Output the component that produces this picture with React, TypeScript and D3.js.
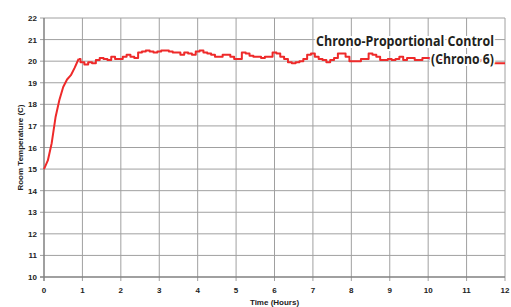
import * as d3 from "d3";
import React from "react";

// room temperature (C), one reading every 0.1 h from 0 to 12 h
const hours = d3.range(0, 121).map((i) => i / 10);
const temps = [
  15.0, 15.4, 16.2, 17.4, 18.2, 18.8, 19.15, 19.35, 19.7, 20.1,
  19.95, 19.85, 19.95, 19.9, 20.05, 20.15, 20.1, 20.05, 20.2, 20.1,
  20.1, 20.2, 20.3, 20.2, 20.15, 20.4, 20.45, 20.5, 20.45, 20.4,
  20.45, 20.5, 20.5, 20.45, 20.4, 20.4, 20.3, 20.4, 20.35, 20.3,
  20.45, 20.5, 20.4, 20.35, 20.3, 20.2, 20.2, 20.3, 20.3, 20.2,
  20.1, 20.1, 20.4, 20.35, 20.25, 20.2, 20.2, 20.15, 20.2, 20.2,
  20.4, 20.35, 20.2, 20.1, 19.95, 19.9, 19.95, 20.0, 20.1, 20.3,
  20.35, 20.2, 20.1, 20.05, 19.95, 20.05, 20.15, 20.35, 20.35, 20.2,
  20.0, 20.0, 20.0, 20.1, 20.1, 20.35, 20.3, 20.2, 20.05, 20.05,
  20.1, 20.05, 20.1, 20.2, 20.05, 20.15, 20.15, 20.05, 20.05, 20.15,
  20.15, 20.1, 20.1, 20.05, 20.0, 20.1, 20.15, 20.05, 20.0, 20.05,
  20.1, 20.0, 19.95, 20.0, 20.05, 19.95, 19.9, 19.9, 19.9, 19.9,
  19.9,
];
const riseEnd = 9; // index where the warm-up ends and the control band starts
const xTicks = d3.range(0, 13);
const yTicks = d3.range(10, 23);
const titleLines = ["Chrono-Proportional Control", "(Chrono 6)"];

const W = 511;
const H = 307;
const margin = { top: 18, right: 6, bottom: 30, left: 44 };

export default function App() {
  const x = d3.scaleLinear().domain([0, 12]).range([margin.left, W - margin.right]);
  const y = d3.scaleLinear().domain([10, 22]).range([H - margin.bottom, margin.top]);

  const pts = temps.map((v, i) => [hours[i], v] as [number, number]);
  const rise = d3
    .line<[number, number]>()
    .x((d) => x(d[0]))
    .y((d) => y(d[1]));
  const hold = d3
    .line<[number, number]>()
    .x((d) => x(d[0]))
    .y((d) => y(d[1]))
    .curve(d3.curveStep); // logger readings look stair-stepped

  const font = "'Liberation Sans', Arial, sans-serif";

  return (
    <svg
      width={W}
      height={H}
      style={{ position: "absolute", left: 0, top: 0, background: "#fff" }}
    >
      {/* grid */}
      <g stroke="#a0a0a0" strokeWidth={1}>
        {xTicks.slice(1).map((t) => (
          <line key={"gx" + t} x1={x(t)} x2={x(t)} y1={y(22)} y2={y(10) + 4} />
        ))}
        {yTicks.slice(1).map((t) => (
          <line key={"gy" + t} x1={x(0) - 4} x2={x(12)} y1={y(t)} y2={y(t)} />
        ))}
      </g>
      {/* axes */}
      <g stroke="#808080" strokeWidth={1.5}>
        <line x1={x(0)} x2={x(0)} y1={y(22)} y2={y(10) + 4} />
        <line x1={x(0) - 4} x2={x(12)} y1={y(10)} y2={y(10)} />
      </g>

      <g fill="none" stroke="#ee2a2a" strokeWidth={2} strokeLinejoin="round">
        <path d={rise(pts.slice(0, riseEnd + 1)) ?? ""} />
        <path d={hold(pts.slice(riseEnd)) ?? ""} />
      </g>

      {/* tick labels */}
      <g fontFamily={font} fontWeight="bold" fontSize={8} fill="#222">
        {yTicks.map((t) => (
          <text key={"ly" + t} x={x(0) - 7} y={y(t) + 3} textAnchor="end">
            {t}
          </text>
        ))}
        {xTicks.map((t) => (
          <text key={"lx" + t} x={x(t)} y={293} textAnchor="middle">
            {t}
          </text>
        ))}
        <text x={(x(0) + x(12)) / 2} y={305} textAnchor="middle">
          Time (Hours)
        </text>
        <text
          transform={`translate(23, ${(y(10) + y(22)) / 2}) rotate(-90)`}
          textAnchor="middle"
        >
          Room Temperature (C)
        </text>
      </g>

      {/* series label, white halo hides the trace behind it */}
      <g
        fontFamily="'Open Sans', sans-serif"
        fontWeight="bold"
        fontSize={14.5}
        fill="#231f20"
        stroke="#fff"
        strokeWidth={4}
        paintOrder="stroke"
        textAnchor="end"
      >
        <text x={494} y={46} textLength={178} lengthAdjust="spacingAndGlyphs">
          {titleLines[0]}
        </text>
        <text x={494} y={64} textLength={63} lengthAdjust="spacingAndGlyphs">
          {titleLines[1]}
        </text>
      </g>
    </svg>
  );
}
